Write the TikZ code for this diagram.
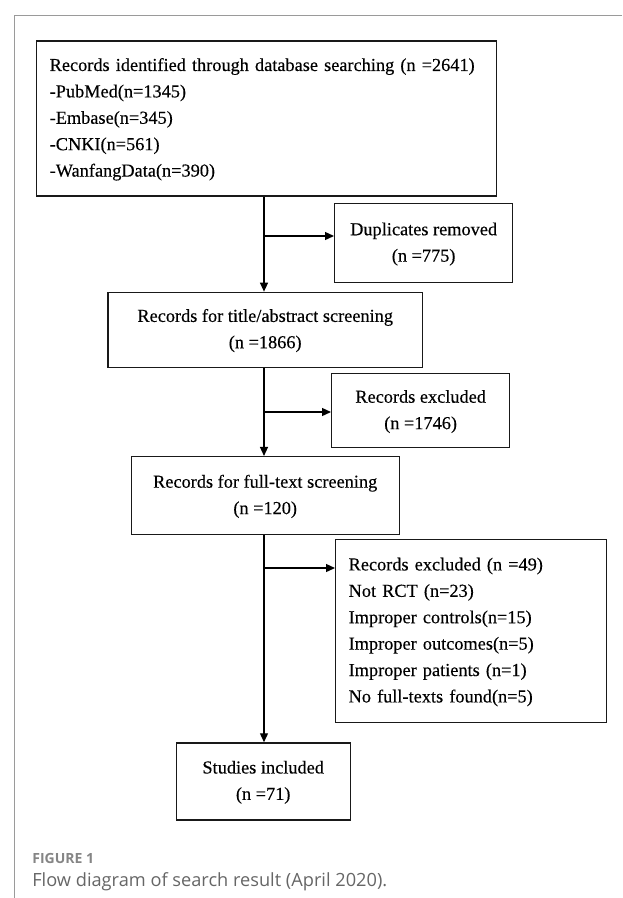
\documentclass[tikz,border=0pt]{standalone}
\usepackage{fontspec}
\setmainfont[FakeBold=0.3]{Liberation Serif}
\newfontfamily\capfont{Open Sans}
\usetikzlibrary{arrows.meta,positioning}
\definecolor{framegray}{HTML}{9A9A9A}
\definecolor{capgray}{HTML}{666666}
\newcommand{\midlines}[1]{\raisebox{-4pt}{\begin{tabular}{@{}c@{}}#1\end{tabular}}}
\newcommand{\leftlines}[1]{\raisebox{-4pt}{\begin{tabular}{@{}l@{}}#1\end{tabular}}}
\tikzstyle{block} = [rectangle, draw=black!90, line width=1.3pt, inner sep=0pt,
    font=\fontsize{18.3}{26.4}\selectfont\renewcommand{\arraystretch}{1}]

\begin{document}
\begin{tikzpicture}[x=1pt,y=-1pt,>={Triangle[length=9pt,width=8pt]},
                    line width=1.3pt]
  \useasboundingbox (0,0) rectangle (622,898);
  \draw[framegray,line width=1pt] (622,15) -- (14.7,15) -- (14.7,898);

  \node[block,minimum width=460pt,minimum height=155pt,text width=434pt] (ident) at (266.7,118.5)
    {\leftlines{Records identified through database searching (n =2641)\\
     -PubMed(n=1345)\\ -Embase(n=345)\\ -CNKI(n=561)\\ -WanfangData(n=390)}};
  \node[block,minimum width=314.5pt,minimum height=75pt,below=95pt of ident.south,anchor=north,xshift=-1.5pt] (title)
    {\midlines{Records for title/abstract screening\\ (n =1866)}};
  \node[block,minimum width=268pt,minimum height=78pt,below=88pt of title.south,anchor=north] (full)
    {\midlines{Records for full-text screening\\ (n =120)}};
  \node[block,minimum width=174pt,minimum height=77pt,below=207pt of full.south,anchor=north,xshift=-2pt] (incl)
    {\midlines{Studies included\\ (n =71)}};

  \node[block,minimum width=178pt,minimum height=79pt,anchor=north west] (dupl) at (334,203)
    {\midlines{Duplicates removed\\ (n =775)}};
  \node[block,minimum width=178pt,minimum height=74pt,anchor=north west] (excl) at (331,373)
    {\midlines{Records excluded\\ (n =1746)}};
  \node[block,minimum width=271pt,minimum height=183pt,text width=245pt,anchor=north west] (excft) at (335,539)
    {\leftlines{Records excluded (n =49)\\ Not RCT (n=23)\\ Improper controls(n=15)\\
     Improper outcomes(n=5)\\ Improper patients (n=1)\\ No full-texts found(n=5)}};

  \coordinate (b1) at (264,236);
  \coordinate (b2) at (264,412);
  \coordinate (b3) at (264,568);
  \draw[->] (ident.south -| b1) -- (title.north -| b1);
  \draw[->] (title.south -| b2) -- (full.north -| b2);
  \draw[->] (full.south -| b3) -- (incl.north -| b3);
  \draw[->] (b1) -- (b1 -| dupl.west);
  \draw[->] (b2) -- (b2 -| excl.west);
  \draw[->] (b3) -- (b3 -| excft.west);

  % caption
  \node[anchor=base west,inner sep=0pt,text=capgray!80,font=\capfont\bfseries\fontsize{14}{16}\selectfont] (fig) at (31.7,863.5) {FIGURE 1};
  \node[anchor=base west,inner sep=0pt,text=capgray,font=\capfont\fontsize{18.2}{20}\selectfont] (cap) at (31.7,886) {Flow diagram of search result (April 2020).};
\end{tikzpicture}
\end{document}
